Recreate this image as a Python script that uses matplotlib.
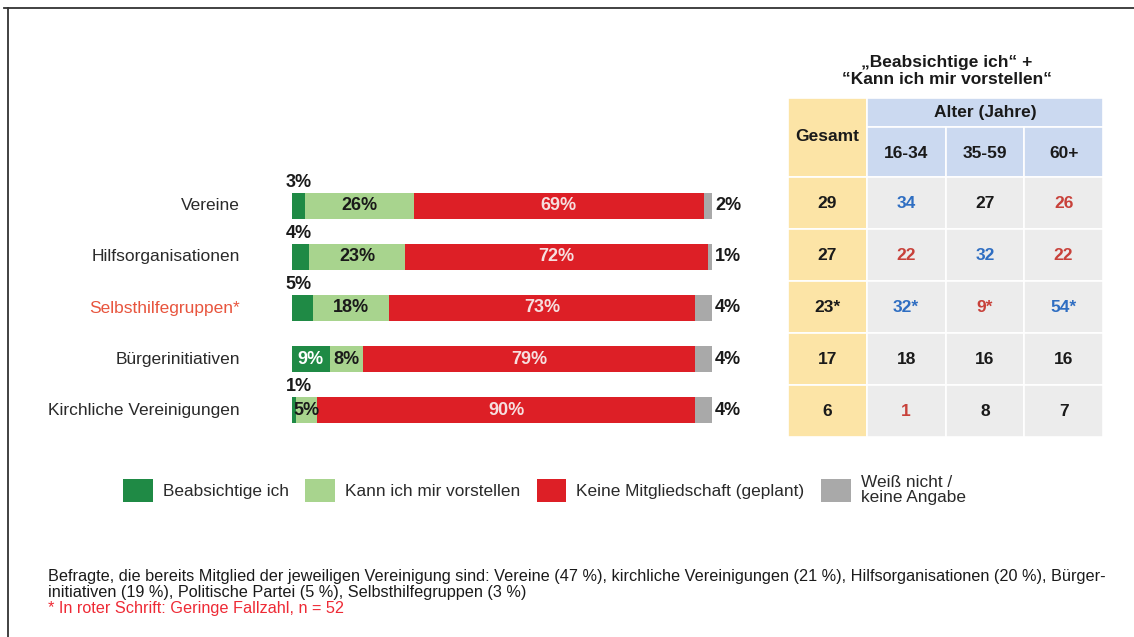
import matplotlib.pyplot as plt
from matplotlib.patches import Patch, Rectangle
from matplotlib.lines import Line2D

plt.rcParams["font.family"] = ["Liberation Sans", "DejaVu Sans"]

# -----------------------------
# Daten
# -----------------------------
categories = ["Vereine", "Hilfsorganisationen", "Selbsthilfegruppen*",
              "Bürgerinitiativen", "Kirchliche Vereinigungen"]
beabsichtige = [3, 4, 5, 9, 1]
kann_vorstellen = [26, 23, 18, 8, 5]
keine_mitgliedschaft = [69, 72, 73, 79, 90]
weiss_nicht = [2, 1, 4, 4, 4]

series_names = ["Beabsichtige ich", "Kann ich mir vorstellen",
                "Keine Mitgliedschaft (geplant)", "Weiß nicht /\nkeine Angabe"]

table_title = "„Beabsichtige ich“ +\n“Kann ich mir vorstellen“"
age_header = "Alter (Jahre)"
age_groups = ["16-34", "35-59", "60+"]
gesamt = ["29", "27", "23*", "17", "6"]
age_16_34 = ["34", "22", "32*", "18", "1"]
age_35_59 = ["27", "32", "9*", "16", "8"]
age_60_plus = ["26", "22", "54*", "16", "7"]
# b = höher (blau), r = niedriger (rot), k = schwarz
marks_16_34 = ["b", "r", "b", "k", "r"]
marks_35_59 = ["k", "b", "r", "k", "k"]
marks_60_plus = ["r", "r", "b", "k", "k"]

footnote_1 = ("Befragte, die bereits Mitglied der jeweiligen Vereinigung sind: Vereine (47 %), "
              "kirchliche Vereinigungen (21 %), Hilfsorganisationen (20 %), Bürger-")
footnote_2 = "initiativen (19 %), Politische Partei (5 %), Selbsthilfegruppen (3 %)"
footnote_3 = "* In roter Schrift: Geringe Fallzahl, n = 52"

# -----------------------------
# Stil
# -----------------------------
colors = ["#1f8a45", "#a8d48e", "#dd1f26", "#a9a9a9"]
dark = "#1a1a1a"
mark_colors = {"b": "#2f6ec2", "r": "#c8413a", "k": dark}
W, H = 1134, 637
FS_BAR = 13
FS_TAB = 12.5

fig = plt.figure(figsize=(W / 100, H / 100), dpi=100)


def fx(px):
    return px / W


def fy(py):
    return 1 - py / H


# Rahmen
fig.add_artist(Line2D([fx(4), 1], [fy(8), fy(8)], color="#333333", lw=1.3))
fig.add_artist(Line2D([fx(8), fx(8)], [fy(8), 0], color="#333333", lw=1.3))

# -----------------------------
# Balken
# -----------------------------
ax = fig.add_axes([fx(292), fy(436), fx(420), 256 / H])
ax.set_xlim(0, 100)
ax.set_ylim(len(categories) - 0.5, -0.5)
ax.axis("off")

series = [beabsichtige, kann_vorstellen, keine_mitgliedschaft, weiss_nicht]
rows = range(len(categories))
left = [0] * len(categories)
for k, vals in enumerate(series):
    ax.barh(rows, vals, left=left, height=0.51, color=colors[k], linewidth=0)
    for i, v in enumerate(vals):
        mid = left[i] + v / 2
        if k == 0:
            if v >= 9:
                ax.text(mid, i, f"{v}%", ha="center", va="center",
                        color="white", fontsize=FS_BAR, fontweight="bold")
            else:
                ax.text(1.6, i - 0.37, f"{v}%", ha="center", va="baseline",
                        color=dark, fontsize=FS_BAR, fontweight="bold")
        elif k == 1:
            ax.text(mid, i, f"{v}%", ha="center", va="center",
                    color=dark, fontsize=FS_BAR, fontweight="bold")
        elif k == 2:
            ax.text(mid, i, f"{v}%", ha="center", va="center",
                    color="#f6dede", fontsize=FS_BAR, fontweight="bold")
        else:
            ax.text(100.7, i, f"{v}%", ha="left", va="center",
                    color=dark, fontsize=FS_BAR, fontweight="bold")
    left = [l + v for l, v in zip(left, vals)]

for i, cat in enumerate(categories):
    c = "#e8553e" if cat.endswith("*") else "#2a2a2a"
    ax.text(-12.4, i, cat, ha="right", va="center", color=c, fontsize=12.5)

# -----------------------------
# Tabelle
# -----------------------------
tax = fig.add_axes([fx(788), fy(437), fx(315), 339 / H])
tax.set_xlim(0, 4)
tax.set_ylim(5, -1.52)
tax.axis("off")

yellow, blue, grey = "#fce4a6", "#cbd9f0", "#ececec"
tax.add_patch(Rectangle((0, -1.52), 1, 1.52, facecolor=yellow, edgecolor="white", lw=1.2))
tax.add_patch(Rectangle((1, -1.52), 3, 0.56, facecolor=blue, edgecolor="white", lw=1.2))
tax.text(0.5, -0.77, "Gesamt", ha="center", va="center", fontsize=FS_TAB, fontweight="bold", color=dark)
tax.text(2.5, -1.24, age_header, ha="center", va="center", fontsize=FS_TAB, fontweight="bold", color=dark)
for j, g in enumerate(age_groups):
    tax.add_patch(Rectangle((1 + j, -0.96), 1, 0.96, facecolor=blue, edgecolor="white", lw=1.2))
    tax.text(1.5 + j, -0.46, g, ha="center", va="center", fontsize=FS_TAB, fontweight="bold", color=dark)

age_cols = [age_16_34, age_35_59, age_60_plus]
age_marks = [marks_16_34, marks_35_59, marks_60_plus]
for i, g in enumerate(gesamt):
    tax.add_patch(Rectangle((0, i), 1, 1, facecolor=yellow, edgecolor="white", lw=1.2))
    tax.text(0.5, i + 0.5, g, ha="center", va="center", fontsize=FS_TAB, fontweight="bold", color=dark)
    for j in range(3):
        tax.add_patch(Rectangle((1 + j, i), 1, 1, facecolor=grey, edgecolor="white", lw=1.2))
        tax.text(1.5 + j, i + 0.5, age_cols[j][i], ha="center", va="center", fontsize=FS_TAB,
                 fontweight="bold", color=mark_colors[age_marks[j][i]])

fig.text(fx(947), fy(71), table_title, ha="center", va="center", fontsize=12.5,
         fontweight="bold", color=dark, linespacing=1.2)

# -----------------------------
# Legende
# -----------------------------
handles = [Patch(facecolor=c, edgecolor="none") for c in colors]
leg = fig.legend(handles, series_names, loc="center left", bbox_to_anchor=(fx(123), fy(490)),
                 ncol=4, frameon=False, handlelength=1.73, handleheight=1.73,
                 handletextpad=0.58, columnspacing=0.95, borderpad=0, borderaxespad=0,
                 prop={"family": ["Liberation Sans Narrow", "Liberation Sans"], "size": 12.4})
for t in leg.get_texts():
    t.set_color("#2a2a2a")
    t.set_linespacing(0.92)

# -----------------------------
# Fußnote
# -----------------------------
narrow = ["Liberation Sans Narrow", "Liberation Sans"]
fig.text(fx(48), fy(576), footnote_1, ha="left", va="center", fontsize=11.7, family=narrow, color=dark)
fig.text(fx(48), fy(592), footnote_2, ha="left", va="center", fontsize=11.7, family=narrow, color=dark)
fig.text(fx(48), fy(609), footnote_3, ha="left", va="center", fontsize=11.7, family=narrow, color="#ee2a35")

fig.savefig("out.png", dpi=100, facecolor="white")
